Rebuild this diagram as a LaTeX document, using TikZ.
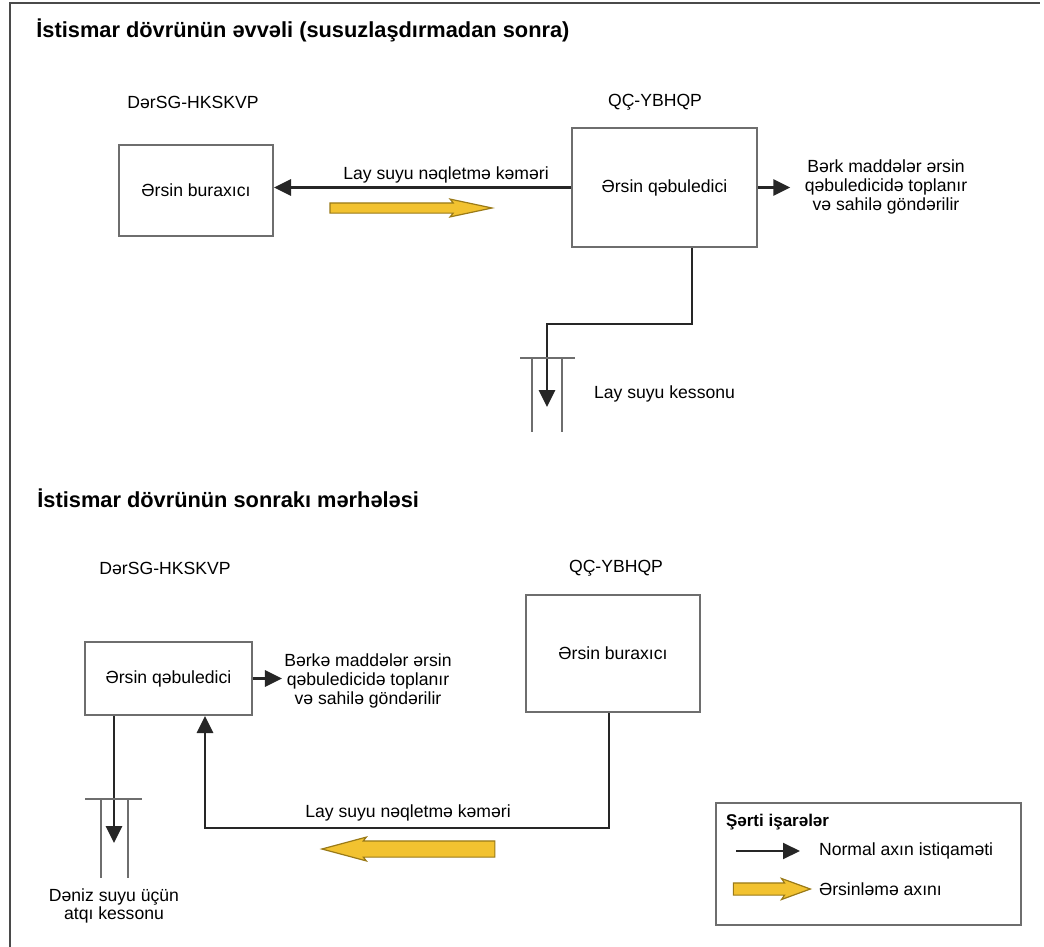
\documentclass[tikz,border=0pt]{standalone}
\usepackage{fontspec}
\setmainfont{Liberation Sans}
\usepackage{xcolor}
\usetikzlibrary{positioning, arrows.meta, shapes.arrows}
\definecolor{framegray}{HTML}{4A4A4A}
\definecolor{boxgray}{HTML}{6E6E6E}
\definecolor{sludgefill}{HTML}{F2C230}
\definecolor{sludgeborder}{HTML}{9A7A18}

\begin{document}
\begin{tikzpicture}[x=0.5pt, y=-0.5pt, font=\fontsize{8.8}{9.3}\selectfont,
    unitbox/.style={draw=boxgray, line width=1pt},
    pipeflow/.style={draw=black!85, line width=1.4pt, -{Triangle[length=8.5pt, width=8pt]}},
    caisson/.style={draw=boxgray, line width=0.7pt},
    sludge/.style={single arrow, draw=sludgeborder, fill=sludgefill, line width=0.6pt,
      inner xsep=0pt, single arrow head indent=1.5pt},
    note/.style={align=center, inner sep=1pt},
    heading/.style={anchor=west, inner sep=0pt, font=\fontsize{10.9}{12}\selectfont\bfseries}]
  \useasboundingbox (0,0) rectangle (1044,947);
  \draw[framegray, line width=1.4pt] (10,947) -- (10,3) -- (1040,3);

  \node[heading] (title1) at (36,30) {İstismar dövrünün əvvəli (susuzlaşdırmadan sonra)};
  \node (site1a) at (193,102) {DərSG-HKSKVP};
  \node (site1b) at (655,102) {QÇ-YBHQP};
  \node[unitbox, minimum width=77pt, minimum height=45.5pt] (release1) at (196,190.5) {Ərsin buraxıcı};
  \node[unitbox, minimum width=92.5pt, minimum height=59.5pt] (receiver1) at (664.5,187.5) {Ərsin qəbuledici};
  \node[note] (solids1) at (886,187) {Bərk maddələr ərsin\\qəbuledicidə toplanır\\və sahilə göndərilir};
  \node (pipe1) at (446,175) {Lay suyu nəqletmə kəməri};
  \node[sludge, inner ysep=2.25pt, single arrow head extend=1.9pt, single arrow tip angle=24,
        minimum height=81pt] (sludge1) at (399,208) {};
  \coordinate (caisson1) at (547,358);
  \node[anchor=west] (caissonlbl1) at (587,394) {Lay suyu kessonu};

  \draw[pipeflow] (receiver1.west) -- (receiver1.west -| release1.east);
  \draw[pipeflow, shorten >=6pt] (receiver1.east) -- (receiver1.east -| solids1.west);
  \draw[pipeflow] ([xshift=13.75pt]receiver1.south) -- ++(0,76) -| ([yshift=-24.5pt]caisson1);
  \draw[caisson] (caisson1) ++(-27,0) -- ++(55,0);
  \foreach \dx in {-15,15}
    \draw[caisson] (caisson1) ++(\dx,0) -- ++(0,74);

  \node[heading] (title2) at (37,498) {İstismar dövrünün sonrakı mərhələsi};
  \node (site2a) at (165,568) {DərSG-HKSKVP};
  \node (site2b) at (616,568) {QÇ-YBHQP};
  \node[unitbox, minimum width=83.5pt, minimum height=36.5pt] (receiver2) at (168.5,678.5) {Ərsin qəbuledici};
  \node[unitbox, minimum width=87pt, minimum height=58.5pt] (release2) at (613,653.5) {Ərsin buraxıcı};
  \node[note] (solids2) at (368,681) {Bərkə maddələr ərsin\\qəbuledicidə toplanır\\və sahilə göndərilir};
  \node (pipe2) at (408,813) {Lay suyu nəqletmə kəməri};
  \node[sludge, inner ysep=3.75pt, single arrow head extend=1.9pt, single arrow tip angle=30,
        shape border rotate=180, minimum height=86.5pt] (sludge2) at (423.5,849) {};
  \coordinate (caisson2) at (114,799);
  \node[note] (caissonlbl2) at (114,906) {Dəniz suyu üçün\\atqı kessonu};

  \draw[pipeflow] (receiver2.east) -- (receiver2.east -| solids2.west);
  \draw[pipeflow] ([xshift=-2pt]release2.south) -- ++(0,115) -| ([xshift=18.25pt]receiver2.south);
  \draw[pipeflow] (receiver2.south -| caisson2) -- ([yshift=-22pt]caisson2);
  \draw[caisson] (caisson2) ++(-29,0) -- ++(57,0);
  \foreach \dx in {-13,14}
    \draw[caisson] (caisson2) ++(\dx,0) -- ++(0,79);

  \node[unitbox, minimum width=152.5pt, minimum height=61pt] (legend) at (868.5,864) {};
  \node[anchor=west, font=\fontsize{8.5}{9}\selectfont\bfseries] (legendtitle) at (719,822) {Şərti işarələr};
  \node[anchor=west] (normaltxt) at (812,851) {Normal axın istiqaməti};
  \node[anchor=west] (sludgetxt) at (812,889) {Ərsinləmə axını};
  \coordinate (keystart) at (736,851);
  \draw[pipeflow, line width=1pt, shorten >=6pt] (keystart) -- (normaltxt.west);
  \node[sludge, inner ysep=2.75pt, single arrow head extend=2.2pt, single arrow tip angle=40,
        minimum height=38.5pt] (keysludge) at (763.5,889) {};
\end{tikzpicture}
\end{document}
